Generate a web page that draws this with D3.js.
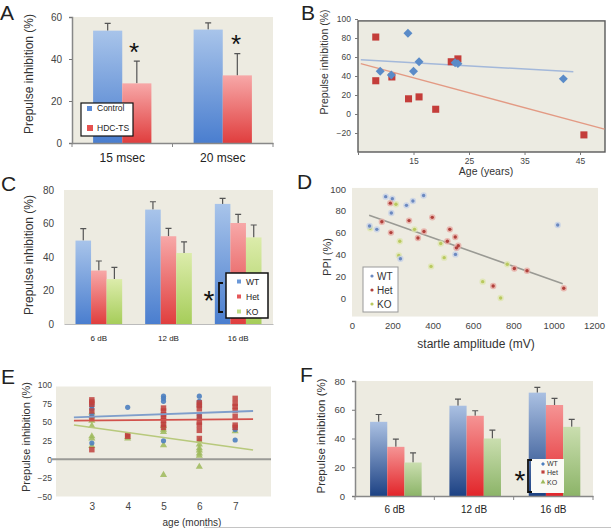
<!DOCTYPE html>
<html>
<head>
<meta charset="utf-8">
<script src="https://cdn.jsdelivr.net/npm/d3@7"></script>
<style>
body { margin: 0; background: #fff; }
text { font-family: "Liberation Sans", Arial, sans-serif; }
</style>
</head>
<body>
<svg id="fig" width="611" height="529"></svg>
<script>
// ---- panel A: bars ----
const aGroups = ["15 msec", "20 msec"]
const aControl = [53.5, 54]
const aControlErr = [3.5, 3.2]
const aHdc = [28.4, 32.2]
const aHdcErr = [10.6, 10.4]

// ---- panel B: scatter ----
const bControlAge = [9, 11, 14, 15, 16, 22.5, 23, 42]
const bControlPPI = [45, 41, 85, 45, 55, 54, 53, 37]
const bHdcAge = [8.2, 8.2, 11.1, 14.1, 16, 19, 21.8, 23, 45.7]
const bHdcPPI = [81, 35, 39, 16, 18, 5, 55, 58, -22]
const bControlFit = [[5.5, 57], [43.8, 44.5]]
const bHdcFit = [[5.5, 53], [49.4, -16]]

// ---- panel C: bars ----
const cGroups = ["6 dB", "12 dB", "16 dB"]
const cWT = [49.8, 68.3, 71.7], cWTErr = [7.2, 4.7, 3.3]
const cHet = [31.9, 52.4, 60.3], cHetErr = [5.7, 4.7, 5.1]
const cKO = [26.8, 42.4, 51.7], cKOErr = [7, 6.6, 7.4]

// ---- panel D: startle amplitude vs PPI ----
const dWT = [[87, 66], [123, 63], [167, 93], [195, 78], [200, 91], [270, 85], [302, 89], [355, 94], [240, 36], [513, 40], [520, 46], [1020, 67]]
const dHet = [[148, 70], [190, 87], [193, 60], [283, 71], [327, 55], [357, 61], [398, 74], [473, 52], [485, 63], [512, 56], [518, 46], [527, 48], [700, 11], [805, 27], [868, 25], [1050, 9]]
const dKO = [[90, 64], [218, 86], [232, 39], [237, 52], [310, 63], [392, 29], [440, 50], [457, 37], [648, 15], [737, 0], [770, 31]]
const dFit = [[85, 76], [1045, 13]]

// ---- panel E: age vs PPI ----
const eWT = [[3, 72], [3, 68], [3, 60], [3, 22], [4, 70], [5, 85], [5, 82], [5, 78], [5, 25], [6, 85], [6, 78], [6, 72], [6, 60], [6, 55], [7, 40], [7, 26]]
const eHet = [[3, 80], [3, 77], [3, 74], [3, 65], [3, 55], [3, 13], [4, 33], [4, 31], [5, 69], [5, 65], [5, 60], [5, 56], [5, 52], [5, 47], [5, 43],
    [6, 76], [6, 73], [6, 68], [6, 57], [6, 50], [6, 46], [6, 39], [6, 28], [7, 82], [7, 75], [7, 71], [7, 66], [7, 58], [7, 46], [7, 43]]
const eKO = [[3, 63], [3, 58], [3, 52], [3, 45], [3, 31], [3, 28], [3, 18], [4, 30], [4, 28], [5, 45], [5, 40], [5, 37], [5, 19], [5, -21],
    [6, 25], [6, 20], [6, 15], [6, 12], [6, 8], [6, 5], [6, -10], [7, 38]]
const eWTFit = [[2.5, 56.5], [7.5, 65]]
const eHetFit = [[2.5, 52], [7.5, 54.2]]
const eKOFit = [[2.5, 46.2], [7.5, 12.5]]

// ---- panel F: bars ----
const fGroups = ["6 dB", "12 dB", "16 dB"]
const fWT = [51.6, 62.8, 71.9], fWTErr = [5.1, 4.6, 3.7]
const fHet = [34.2, 55.8, 63.3], fHetErr = [5.3, 3.5, 4.6]
const fKO = [23.3, 40, 48.1], fKOErr = [6.7, 5.8, 5.2]

const svg = d3.select('#fig')
const BG = '#edebe1'
const FONT = '"Liberation Sans", Arial, sans-serif'
const defs = svg.append('defs')

function grad(id, top, bottom) {
    const lg = defs.append('linearGradient').attr('id', id)
        .attr('x1', 0).attr('y1', 0).attr('x2', 0).attr('y2', 1)
    lg.append('stop').attr('offset', '0%').attr('stop-color', top)
    lg.append('stop').attr('offset', '100%').attr('stop-color', bottom)
}
grad('blueA', '#a8c4ea', '#4a7ecf')
grad('redA', '#f7a8a8', '#e03e3e')
grad('greenA', '#dcecab', '#a6cd5a')
grad('blueF', '#aac0e2', '#1d4284')
grad('redF', '#f59494', '#e2252a')
grad('greenF', '#cadeaf', '#8cb468')

function styleAxis(ax, size, color = '#444') {
    ax.attr('font-family', FONT).attr('font-size', size)
    ax.selectAll('text').attr('fill', color)
    ax.selectAll('line').attr('stroke', '#777')
    ax.select('.domain').attr('stroke', '#888')
}

function yTitle(text, x, y, size) {
    svg.append('text').attr('transform', `translate(${x},${y}) rotate(-90)`)
        .attr('text-anchor', 'middle').attr('font-size', size).attr('fill', '#333').text(text)
}

function letter(t, x, y) {
    svg.append('text').attr('x', x).attr('y', y).attr('font-size', 21).attr('fill', '#222').text(t)
}

function star(x, y, size) {
    svg.append('text').attr('x', x).attr('y', y).attr('text-anchor', 'middle')
        .attr('font-size', size).attr('fill', '#111').text('*')
}

// generic grouped bar panel
function barPanel(o) {
    const g = svg.append('g')
    g.append('rect').attr('x', o.left).attr('y', o.top)
        .attr('width', o.right - o.left).attr('height', o.bottom - o.top).attr('fill', BG)

    const x0 = d3.scaleBand().domain(o.groups).range([o.left, o.right])
    const x1 = d3.scaleBand().domain(o.series.map(s => s.name))
        .range([x0.bandwidth() * o.inner[0], x0.bandwidth() * o.inner[1]])
    const y = d3.scaleLinear().domain([0, o.yMax]).range([o.bottom, o.top])

    o.series.forEach(s => {
        const rows = o.groups.map((gr, i) => ({ g: gr, v: s.vals[i], e: s.errs[i] }))
        const cx = d => x0(d.g) + x1(s.name) + x1.bandwidth() / 2
        g.append('g').selectAll('path')
            .data(rows).join('path')
            .attr('d', d => `M${cx(d)},${y(d.v)}V${y(d.v + d.e)}M${cx(d) - 3},${y(d.v + d.e)}h6`)
            .attr('stroke', '#555').attr('stroke-width', 1.2).attr('fill', 'none')
        g.append('g').selectAll('rect')
            .data(rows).join('rect')
            .attr('x', d => x0(d.g) + x1(s.name))
            .attr('width', x1.bandwidth())
            .attr('y', d => y(d.v))
            .attr('height', d => y(0) - y(d.v))
            .attr('fill', `url(#${s.grad})`)
    })

    const ay = g.append('g').attr('transform', `translate(${o.left},0)`)
        .call(d3.axisLeft(y).tickValues(o.ticks).tickSize(o.axisLines ? 3 : 0).tickPadding(o.axisLines ? 7 : 10))
    styleAxis(ay, o.tickFont)
    if (!o.axisLines) ay.select('.domain').remove()

    const ax = g.append('g').attr('transform', `translate(0,${o.bottom})`)
        .call(d3.axisBottom(x0).tickSize(0).tickPadding(o.catPad))
    styleAxis(ax, o.catFont, '#222')
    ax.select('.domain').attr('stroke', o.axisLines ? '#888' : '#bbb').attr('stroke-width', o.axisLines ? 1.5 : 1)
    if (o.axisLines) {
        // ticks between categories
        g.append('g').selectAll('line')
            .data(o.groups.map(d => x0(d)).concat([o.right])).join('line')
            .attr('x1', d => d).attr('x2', d => d)
            .attr('y1', o.bottom).attr('y2', o.bottom + 4).attr('stroke', '#888')
        ay.select('.domain').attr('stroke-width', 1.5)
    }
    return { x0, x1, y }
}

// ================= A =================
letter('A', 0, 20)
barPanel({
    left: 72, right: 273, top: 17, bottom: 143, yMax: 60, ticks: [0, 20, 40, 60],
    groups: aGroups, inner: [0.21, 0.79], axisLines: true,
    tickFont: 10, catFont: 12, catPad: 10,
    series: [
        { name: 'Control', vals: aControl, errs: aControlErr, grad: 'blueA' },
        { name: 'HDC-TS', vals: aHdc, errs: aHdcErr, grad: 'redA' }
    ]
})
yTitle('Prepulse inhibition (%)', 33, 74, 12)
star(134, 61, 26)
star(236, 53, 26)
const legA = svg.append('g')
legA.append('rect').attr('x', 81).attr('y', 103).attr('width', 52).attr('height', 33)
    .attr('fill', '#fff').attr('stroke', '#111').attr('stroke-width', 1.2)
legA.append('rect').attr('x', 87).attr('y', 106).attr('width', 5).attr('height', 5).attr('fill', '#5b8bd6')
legA.append('text').attr('x', 97).attr('y', 111).attr('font-size', 8.5).attr('fill', '#222').text('Control')
legA.append('rect').attr('x', 87).attr('y', 125).attr('width', 6).attr('height', 6).attr('fill', '#e5514f')
legA.append('text').attr('x', 97).attr('y', 131).attr('font-size', 8.5).attr('fill', '#222').text('HDC-TS')

// ================= B =================
letter('B', 301, 20)
{
    const x = d3.scaleLinear().domain([5, 49.5]).range([358, 605])
    const y = d3.scaleLinear().domain([-40, 100]).range([152, 19])
    const g = svg.append('g')
    g.append('rect').attr('x', x(5)).attr('y', y(98)).attr('width', x(49.5) - x(5)).attr('height', y(-40) - y(98))
        .attr('fill', '#ecebe2').attr('stroke', '#5a5a5a').attr('stroke-width', 1.4)
    const ay = g.append('g').attr('transform', `translate(${x(5)},0)`)
        .call(d3.axisLeft(y).tickValues([100, 80, 60, 40, 20, 0, -20]).tickSize(3).tickPadding(4))
    styleAxis(ay, 8.5)
    ay.select('.domain').remove()
    const ax = g.append('g').attr('transform', `translate(0,${y(-40)})`)
        .call(d3.axisBottom(x).tickValues([5, 15, 25, 35, 45]).tickFormat(d => d === 5 ? '' : d).tickSize(3).tickPadding(3))
    styleAxis(ax, 8.5)
    ax.select('.domain').remove()

    const line = d3.line().x(d => x(d[0])).y(d => y(d[1]))
    g.append('path').attr('d', line(bControlFit)).attr('stroke', '#a3b8da').attr('stroke-width', 1.5).attr('fill', 'none')
    g.append('path').attr('d', line(bHdcFit)).attr('stroke', '#e39a84').attr('stroke-width', 1.3).attr('fill', 'none')

    g.append('g').selectAll('path')
        .data(bHdcAge.map((a, i) => [a, bHdcPPI[i]])).join('path')
        .attr('d', d3.symbol(d3.symbolSquare, 50))
        .attr('transform', d => `translate(${x(d[0])},${y(d[1])})`)
        .attr('fill', '#c43d3a')
    g.append('g').selectAll('path')
        .data(bControlAge.map((a, i) => [a, bControlPPI[i]])).join('path')
        .attr('d', d3.symbol(d3.symbolSquare, 40))
        .attr('transform', d => `translate(${x(d[0])},${y(d[1])}) rotate(45)`)
        .attr('fill', '#5a8bc8')
}
yTitle('Prepulse inhibition (%)', 328, 62, 10.5)
svg.append('text').attr('x', 486).attr('y', 175).attr('text-anchor', 'middle').attr('font-size', 10.5).attr('fill', '#333').text('Age (years)')

// ================= C =================
letter('C', 1, 191)
barPanel({
    left: 64, right: 273, top: 190, bottom: 324, yMax: 80, ticks: [0, 20, 40, 60, 80],
    groups: cGroups, inner: [0.165, 0.835], axisLines: false,
    tickFont: 10, catFont: 8, catPad: 11,
    series: [
        { name: 'WT', vals: cWT, errs: cWTErr, grad: 'blueA' },
        { name: 'Het', vals: cHet, errs: cHetErr, grad: 'redA' },
        { name: 'KO', vals: cKO, errs: cKOErr, grad: 'greenA' }
    ]
})
yTitle('Prepulse inhibition (%)', 33, 255, 12)
{
    const lg = svg.append('g')
    lg.append('rect').attr('x', 226).attr('y', 273).attr('width', 42).attr('height', 45)
        .attr('fill', '#fff').attr('stroke', '#111').attr('stroke-width', 1.5)
    const items = [['WT', '#6b98d8', 282], ['Het', '#e5585a', 297], ['KO', '#c2dd86', 312]]
    items.forEach(([t, c, yy]) => {
        lg.append('rect').attr('x', 237).attr('y', yy - 2.5).attr('width', 4).attr('height', 4).attr('fill', c)
        lg.append('text').attr('x', 246).attr('y', yy + 3).attr('font-size', 8.5).attr('fill', '#222').text(t)
    })
    svg.append('path').attr('d', 'M223,283H219V312H223').attr('stroke', '#111').attr('stroke-width', 1.8).attr('fill', 'none')
    star(209, 310, 28)
}

// ================= D =================
letter('D', 297, 189)
{
    const x = d3.scaleLinear().domain([0, 1200]).range([352, 594])
    const y = d3.scaleLinear().domain([0, 100]).range([298, 189])
    const g = svg.append('g')
    g.append('rect').attr('x', x(0)).attr('y', y(101)).attr('width', 598 - x(0)).attr('height', y(-17) - y(101)).attr('fill', BG)
    const ay = g.append('g').attr('transform', `translate(${x(0)},0)`)
        .call(d3.axisLeft(y).tickValues([0, 20, 40, 60, 80, 100]).tickSize(0).tickPadding(6))
    styleAxis(ay, 9.5)
    ay.select('.domain').remove()
    const ax = g.append('g').attr('transform', `translate(0,${y(-17)})`)
        .call(d3.axisBottom(x).tickValues(d3.range(0, 1201, 200)).tickFormat(d3.format('d')).tickSize(0).tickPadding(6))
    styleAxis(ax, 9.5)
    ax.select('.domain').remove()

    g.append('path').attr('d', d3.line().x(d => x(d[0])).y(d => y(d[1]))(dFit))
        .attr('stroke', '#9a9a94').attr('stroke-width', 1.6).attr('fill', 'none')

    const groups = [[dKO, '#b9c95e', '#dfe6b0'], [dWT, '#6b89c0', '#c6d1e6'], [dHet, '#b0403b', '#e6aaa3']]
    groups.forEach(([pts, c, halo]) => {
        const pg = g.append('g')
        pg.selectAll('circle.h').data(pts).join('circle').attr('class', 'h')
            .attr('cx', d => x(d[0])).attr('cy', d => y(d[1])).attr('r', 3.2).attr('fill', halo).attr('opacity', 0.8)
        pg.selectAll('circle.c').data(pts).join('circle').attr('class', 'c')
            .attr('cx', d => x(d[0])).attr('cy', d => y(d[1])).attr('r', 1.7).attr('fill', c)
    })

    const lg = svg.append('g')
    lg.append('rect').attr('x', 363).attr('y', 267).attr('width', 35).attr('height', 45)
        .attr('fill', '#fff').attr('stroke', '#999').attr('stroke-width', 1)
    const items = [['WT', '#6b89c0', 276], ['Het', '#b0403b', 290], ['KO', '#b9c95e', 304]]
    items.forEach(([t, c, yy]) => {
        lg.append('circle').attr('cx', 372).attr('cy', yy).attr('r', 1.6).attr('fill', c)
        lg.append('text').attr('x', 377).attr('y', yy + 3.5).attr('font-size', 10).attr('fill', '#333').text(t)
    })
}
yTitle('PPI (%)', 331, 257, 11)
svg.append('text').attr('x', 476).attr('y', 348).attr('text-anchor', 'middle').attr('font-size', 12).attr('fill', '#333').text('startle amplitude (mV)')

// ================= E =================
letter('E', 1, 384)
{
    const x = d3.scaleLinear().domain([2, 8]).range([56, 271])
    const y = d3.scaleLinear().domain([-50, 100]).range([496.5, 385])
    const g = svg.append('g')
    g.append('rect').attr('x', x(2)).attr('y', y(100) + 1.5).attr('width', x(8) - x(2)).attr('height', y(-50) - y(100) - 1.5).attr('fill', BG)
    const ay = g.append('g').attr('transform', `translate(${x(2)},0)`)
        .call(d3.axisLeft(y).tickValues([100, 75, 50, 25, 0, -25, -50]).tickSize(0).tickPadding(4))
    styleAxis(ay, 8.5)
    ay.select('.domain').remove()
    const ax = g.append('g').attr('transform', `translate(0,${y(-50)})`)
        .call(d3.axisBottom(x).tickValues([3, 4, 5, 6, 7]).tickFormat(d3.format('d')).tickSize(0).tickPadding(6))
    styleAxis(ax, 10)
    ax.select('.domain').remove()

    g.append('line').attr('x1', x(2) - 4).attr('x2', x(8)).attr('y1', y(0)).attr('y2', y(0))
        .attr('stroke', '#9a9a96').attr('stroke-width', 2)

    const pg = g.append('g')
    pg.selectAll('path.ko').data(eKO).join('path').attr('class', 'ko')
        .attr('d', d3.symbol(d3.symbolTriangle, 22))
        .attr('transform', d => `translate(${x(d[0])},${y(d[1])})`).attr('fill', '#9dba5a').attr('opacity', 0.85)
    pg.selectAll('circle').data(eWT).join('circle')
        .attr('cx', d => x(d[0])).attr('cy', d => y(d[1])).attr('r', 2.6).attr('fill', '#4c7fc0').attr('opacity', 0.9)
    pg.selectAll('path.het').data(eHet).join('path').attr('class', 'het')
        .attr('d', d3.symbol(d3.symbolSquare, 30))
        .attr('transform', d => `translate(${x(d[0])},${y(d[1])})`).attr('fill', '#c0413d').attr('opacity', 0.85)

    const line = d3.line().x(d => x(d[0])).y(d => y(d[1]))
    g.append('path').attr('d', line(eWTFit)).attr('stroke', '#7f9ecb').attr('stroke-width', 1.8).attr('fill', 'none')
    g.append('path').attr('d', line(eHetFit)).attr('stroke', '#d2524c').attr('stroke-width', 1.8).attr('fill', 'none')
    g.append('path').attr('d', line(eKOFit)).attr('stroke', '#b8c97c').attr('stroke-width', 1.6).attr('fill', 'none')
}
yTitle('Prepulse inhibition (%)', 30, 437, 11)
svg.append('text').attr('x', 192).attr('y', 526).attr('text-anchor', 'middle').attr('font-size', 10).attr('fill', '#333').text('age (months)')

// ================= F =================
letter('F', 300, 382)
barPanel({
    left: 355, right: 593, top: 381, bottom: 496, yMax: 80, ticks: [0, 20, 40, 60, 80],
    groups: fGroups, inner: [0.19, 0.84], axisLines: true,
    tickFont: 9.5, catFont: 10, catPad: 10,
    series: [
        { name: 'WT', vals: fWT, errs: fWTErr, grad: 'blueF' },
        { name: 'Het', vals: fHet, errs: fHetErr, grad: 'redF' },
        { name: 'KO', vals: fKO, errs: fKOErr, grad: 'greenF' }
    ]
})
yTitle('Prepulse inhibition (%)', 325, 436, 11.5)
{
    const lg = svg.append('g')
    lg.append('rect').attr('x', 531).attr('y', 459).attr('width', 33).attr('height', 34).attr('fill', '#fafaf6')
    lg.append('path').attr('d', d3.symbol(d3.symbolSquare, 8)).attr('transform', 'translate(543,464) rotate(45)').attr('fill', '#4c7fc0')
    lg.append('path').attr('d', d3.symbol(d3.symbolSquare, 10)).attr('transform', 'translate(543,472)').attr('fill', '#c0413d')
    lg.append('path').attr('d', d3.symbol(d3.symbolTriangle, 10)).attr('transform', 'translate(543,482)').attr('fill', '#9dba5a')
    const labels = [['WT', 466], ['Het', 474.5], ['KO', 484.5]]
    labels.forEach(([t, yy]) => lg.append('text').attr('x', 547).attr('y', yy).attr('font-size', 7).attr('fill', '#333').text(t))
    svg.append('path').attr('d', 'M532,460H528V492H532').attr('stroke', '#111').attr('stroke-width', 1.8).attr('fill', 'none')
    star(520, 490, 28)
}

// thin rule along the bottom edge
svg.append('line').attr('x1', 204).attr('x2', 611).attr('y1', 527.5).attr('y2', 527.5).attr('stroke', '#c4c4c4')
</script>
</body>
</html>
